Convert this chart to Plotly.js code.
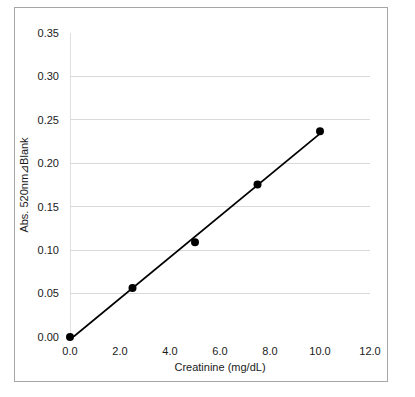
<!DOCTYPE html>
<html><head><meta charset="utf-8">
<script src="https://cdn.plot.ly/plotly-3.0.1.min.js"></script>
<style>
html,body{margin:0;padding:0;background:#fff;width:415px;height:397px;overflow:hidden}
#frame{position:absolute;left:14px;top:7px;width:374px;height:375px;box-sizing:border-box;border:1px solid #a6a6a6}
#chart{position:absolute;left:0;top:0;width:372px;height:373px}
</style></head><body>
<div id="frame"><div id="chart"></div></div>
<script>
const creatinine = [0, 2.5, 5.0, 7.5, 10.0];
const absorbance = [0, 0.0565, 0.109, 0.1755, 0.237];
const xTicks = [0, 2, 4, 6, 8, 10, 12];
const yTicks = [0, 0.05, 0.10, 0.15, 0.20, 0.25, 0.30, 0.35];

// linear least-squares trendline (as in the spreadsheet)
const n = creatinine.length;
const mx = creatinine.reduce((a,b)=>a+b,0)/n;
const my = absorbance.reduce((a,b)=>a+b,0)/n;
let sxy=0, sxx=0;
for(let i=0;i<n;i++){sxy+=(creatinine[i]-mx)*(absorbance[i]-my);sxx+=(creatinine[i]-mx)**2;}
const slope = sxy/sxx, icpt = my - slope*mx;
const fitX = [creatinine[0], creatinine[n-1]];
const fitY = fitX.map(x=>icpt+slope*x);

const font = {family:'"Liberation Sans", Arial, sans-serif', size:11, color:'#1a1a1a'};
Plotly.newPlot('chart', [
  {x:fitX, y:fitY, mode:'lines', line:{color:'#000', width:1.8}, hoverinfo:'skip', cliponaxis:false},
  {x:creatinine, y:absorbance, mode:'markers', marker:{color:'#000', size:8}, cliponaxis:false}
], {
  width:372, height:373,
  margin:{l:55, r:17, t:25, b:44},
  showlegend:false,
  paper_bgcolor:'#fff', plot_bgcolor:'#fff',
  font:font,
  xaxis:{range:[0,12], tickvals:xTicks, tickformat:'.1f', showgrid:false, zeroline:false,
         showline:false, ticks:'', ticklabelstandoff:6,
         title:{text:'Creatinine (mg/dL)', font:font, standoff:7}},
  yaxis:{range:[0,0.35], tickvals:yTicks, tickformat:'.2f', showgrid:true, gridcolor:'#d9d9d9', gridwidth:1,
         zeroline:false, showline:false, ticks:'', ticklabelstandoff:10,
         title:{text:'Abs. 520nm⊿Blank', font:font, standoff:6}},
  shapes:[{type:'line', xref:'x', yref:'y', x0:0, x1:0, y0:0, y1:0.35, line:{color:'#bfbfbf', width:1}, layer:'below'}]
}, {staticPlot:true});
</script></body></html>
